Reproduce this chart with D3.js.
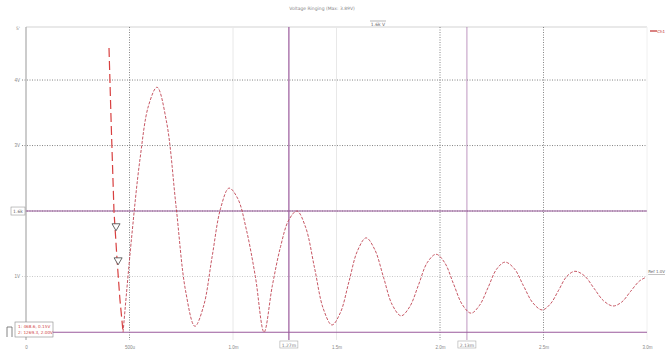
<!DOCTYPE html>
<html>
<head>
<meta charset="utf-8">
<script src="https://cdn.jsdelivr.net/npm/d3@7"></script>
<style>
  body { margin: 0; background: #fff; }
  svg { display: block; font-family: 'DejaVu Sans', sans-serif; }
</style>
</head>
<body>
<div id="chart"></div>
<script>
// x axis ticks (time) and labels
const xTicks = [0, 500, 1000, 1500, 2000, 2500, 3000];
const xTickLabels = ['0', '500u', '1.0m', '1.5m', '2.0m', '2.5m', '3.0m'];
const yTicks = [1, 2, 3, 4];
const yTickLabels = ['1V', '2V', '3V', '4V'];

// Ch1 ringing waveform
const ch1Time = [469, 510, 551, 592, 633, 679, 725, 771, 816, 858, 899, 940, 981, 1023, 1065, 1108, 1150,
  1190, 1230, 1269, 1309, 1351, 1394, 1436, 1478, 1519, 1560, 1601, 1643, 1685, 1727, 1769, 1812,
  1854, 1896, 1938, 1981, 2023, 2065, 2108, 2150, 2191, 2232, 2273, 2314, 2359, 2403, 2448, 2493,
  2533, 2573, 2612, 2652, 2698, 2744, 2790, 2836, 2878, 2920, 2963, 2990];
const ch1Volt = [0.15, 1.59, 2.80, 3.61, 3.89, 3.36, 2.07, 0.78, 0.24, 0.55, 1.30, 2.04, 2.35, 2.19, 1.71, 1.00, 0.15,
  0.86, 1.46, 1.86, 2.00, 1.75, 1.13, 0.51, 0.26, 0.45, 0.92, 1.39, 1.59, 1.41, 0.99, 0.57, 0.40,
  0.54, 0.87, 1.21, 1.34, 1.21, 0.89, 0.57, 0.44, 0.56, 0.83, 1.11, 1.22, 1.12, 0.86, 0.60, 0.49,
  0.58, 0.79, 1.00, 1.08, 1.01, 0.82, 0.63, 0.55, 0.61, 0.77, 0.93, 0.98];

// steep edge before ringing
const edgeTime = [401, 411, 425, 440, 454, 469];
const edgeVolt = [4.49, 3.39, 2.00, 1.25, 0.64, 0.15];

// trigger markers
const markTime = [435, 445];
const markVolt = [1.77, 1.25];

// cursors
const vCursors = [1270, 2130];
const vCursorLabels = ['1.27m', '2.13m'];
const hCursors = [2.0, 0.15];

const W = 666, H = 350;
const x = d3.scaleLinear().domain([0, 3000]).range([26, 647]);
const y = d3.scaleLinear().domain([0, 4.81]).range([342, 27]);
const purple = '#9a5a9c';

const svg = d3.select('#chart').append('svg').attr('width', W).attr('height', H);

// title
svg.append('text').attr('x', 322).attr('y', 10).attr('text-anchor', 'middle')
  .attr('font-size', 4.5).attr('fill', '#888').text('Voltage Ringing (Max: 3.89V)');

// frame
svg.append('line').attr('x1', x(0)).attr('x2', x(3000)).attr('y1', y(4.81)).attr('y2', y(4.81))
  .attr('stroke', '#e2e2e2').attr('stroke-width', 1.5);
svg.append('line').attr('x1', x(3000)).attr('x2', x(3000)).attr('y1', y(4.81)).attr('y2', 340)
  .attr('stroke', '#f0f0f0');

// vertical grid
xTicks.slice(1, -1).forEach(t => {
  const dotted = t === 500 || t >= 2000;
  svg.append('line').attr('x1', x(t)).attr('x2', x(t)).attr('y1', y(4.81)).attr('y2', 340)
    .attr('stroke', dotted ? '#666' : '#e8e8e8')
    .attr('stroke-width', dotted ? 0.8 : 1)
    .attr('stroke-dasharray', dotted ? '1,1.5' : null);
});

// horizontal grid
yTicks.forEach(t => {
  svg.append('line').attr('x1', 22).attr('x2', x(3000)).attr('y1', y(t)).attr('y2', y(t))
    .attr('stroke', t === 1 ? '#bbb' : '#666').attr('stroke-width', 0.8)
    .attr('stroke-dasharray', '1,1.5');
});

// left axis line
svg.append('line').attr('x1', x(0)).attr('x2', x(0)).attr('y1', y(4.81)).attr('y2', 340)
  .attr('stroke', '#aaa').attr('stroke-width', 1.2);

// y tick labels
svg.append('g').attr('transform', 'translate(' + (x(0) - 3) + ',0)')
  .call(d3.axisLeft(y).tickValues([1, 3, 4]).tickSize(0)
    .tickFormat(d => yTickLabels[yTicks.indexOf(d)]))
  .call(g => g.select('.domain').remove())
  .call(g => g.selectAll('text').attr('font-size', 4.5).attr('fill', '#888'));
svg.append('text').attr('x', 20).attr('y', 30).attr('text-anchor', 'end')
  .attr('font-size', 4.5).attr('fill', '#888').text("5'");

// x tick labels
svg.append('g').attr('transform', 'translate(0,343)')
  .call(d3.axisBottom(x).tickValues(xTicks).tickSize(0)
    .tickFormat((d, i) => xTickLabels[i]))
  .call(g => g.select('.domain').remove())
  .call(g => g.selectAll('text').attr('font-size', 4.5).attr('fill', '#888'));

// horizontal cursors
svg.append('line').attr('x1', x(0)).attr('x2', x(3000)).attr('y1', y(hCursors[0])).attr('y2', y(hCursors[0]))
  .attr('stroke', purple).attr('stroke-width', 1.1);
svg.append('line').attr('x1', 53).attr('x2', x(3000)).attr('y1', y(hCursors[1])).attr('y2', y(hCursors[1]))
  .attr('stroke', purple).attr('stroke-width', 1.1);

// vertical cursors
vCursors.forEach((c, i) => {
  svg.append('line').attr('x1', x(c)).attr('x2', x(c)).attr('y1', y(4.81)).attr('y2', 340)
    .attr('stroke', purple).attr('stroke-width', i === 0 ? 1.2 : 0.9).attr('opacity', i === 0 ? 1 : 0.7);
  svg.append('rect').attr('x', x(c) - 9).attr('y', 341).attr('width', 18).attr('height', 7)
    .attr('fill', '#fff').attr('stroke', '#aaa').attr('stroke-width', 0.6);
  svg.append('text').attr('x', x(c)).attr('y', 346.5).attr('text-anchor', 'middle')
    .attr('font-size', 4.5).attr('fill', '#777').text(vCursorLabels[i]);
});

// cursor boxes on left
svg.append('rect').attr('x', 11).attr('y', y(hCursors[0]) - 4).attr('width', 14).attr('height', 8)
  .attr('fill', '#fff').attr('stroke', '#999').attr('stroke-width', 0.6);
svg.append('text').attr('x', 18).attr('y', y(hCursors[0]) + 1.6).attr('text-anchor', 'middle')
  .attr('font-size', 4.5).attr('fill', '#666').text('1.6k');

const box = svg.append('g');
box.append('rect').attr('x', 15).attr('y', 322).attr('width', 38).attr('height', 15)
  .attr('fill', '#fff').attr('stroke', '#888').attr('stroke-width', 0.6);
box.append('text').attr('x', 18).attr('y', 328).attr('font-size', 4.2).attr('fill', '#d04545')
  .text('1: 468.6, 0.15V');
box.append('text').attr('x', 18).attr('y', 334).attr('font-size', 4.2).attr('fill', '#d04545')
  .text('2: 1269.3, 2.00V');
box.append('path').attr('d', 'M7,337 L7,327 L12,327 L12,337').attr('fill', 'none')
  .attr('stroke', '#666').attr('stroke-width', 0.8);

// top delta label
svg.append('line').attr('x1', 370).attr('x2', 386).attr('y1', 21).attr('y2', 21).attr('stroke', '#888').attr('stroke-width', 0.6);
svg.append('text').attr('x', 378).attr('y', 26).attr('text-anchor', 'middle')
  .attr('font-size', 4.5).attr('fill', '#666').text('1.6k V');

// edge
const edgeLine = d3.line().x(d => x(d[0])).y(d => y(d[1]));
svg.append('path').datum(edgeTime.map((t, i) => [t, edgeVolt[i]]))
  .attr('d', edgeLine).attr('fill', 'none').attr('stroke', '#d84040')
  .attr('stroke-width', 1.2).attr('stroke-dasharray', '9,4');

// ch1 waveform
const line = d3.line().x(d => x(d[0])).y(d => y(d[1])).curve(d3.curveCatmullRom.alpha(0.5));
svg.append('path').datum(ch1Time.map((t, i) => [t, ch1Volt[i]]))
  .attr('d', line).attr('fill', 'none').attr('stroke', '#c04452')
  .attr('stroke-width', 0.9).attr('stroke-dasharray', '3,1.5');

// markers
svg.selectAll('.mark').data(markTime.map((t, i) => [t, markVolt[i]])).enter()
  .append('path').attr('class', 'mark')
  .attr('d', d3.symbol().type(d3.symbolTriangle).size(28))
  .attr('transform', d => 'translate(' + x(d[0]) + ',' + y(d[1]) + ') rotate(180)')
  .attr('fill', '#fff').attr('stroke', '#444').attr('stroke-width', 0.8);

// legend
svg.append('line').attr('x1', 650).attr('x2', 657).attr('y1', 31).attr('y2', 31)
  .attr('stroke', '#c03030').attr('stroke-width', 1.2);
svg.append('text').attr('x', 665).attr('y', 32.5).attr('text-anchor', 'end')
  .attr('font-size', 4).attr('fill', '#c03030').text('Ch1');

// ref label
svg.append('text').attr('x', 665).attr('y', 273).attr('text-anchor', 'end')
  .attr('font-size', 4).attr('fill', '#666').attr('text-decoration', 'underline').text('Ref 1.0V');
</script>
</body>
</html>
